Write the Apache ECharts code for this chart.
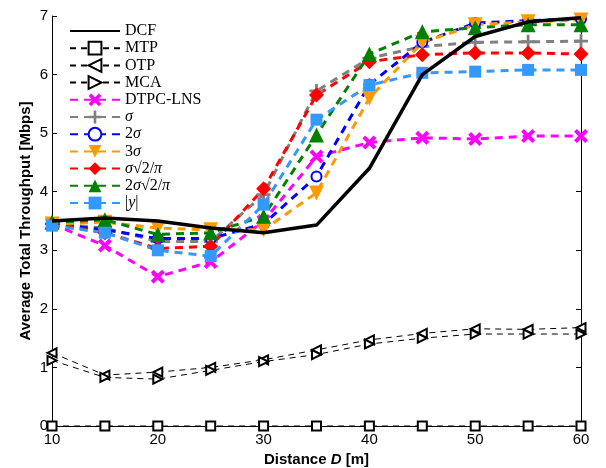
<!DOCTYPE html>
<html>
<head>
<meta charset="utf-8">
<script src="https://cdn.jsdelivr.net/npm/echarts@6/dist/echarts.min.js"></script>
<style>
html, body { margin: 0; padding: 0; background: #fff; }
#chart { width: 606px; height: 468px; }
</style>
</head>
<body>
<div id="chart"></div>
<script>
var distance = [10, 15, 20, 25, 30, 35, 40, 45, 50, 55, 60];
var xTicks = [10, 20, 30, 40, 50, 60];
var yTicks = [0, 1, 2, 3, 4, 5, 6, 7];

var dcf = [3.5, 3.55, 3.5, 3.38, 3.3, 3.43, 4.4, 6.0, 6.65, 6.9, 6.97];
var mtp = [0, 0, 0, 0, 0, 0, 0, 0, 0, 0, 0];
var otp = [1.25, 0.87, 0.92, 1.0, 1.13, 1.3, 1.47, 1.58, 1.66, 1.65, 1.68];
var mca = [1.12, 0.83, 0.8, 0.95, 1.1, 1.22, 1.4, 1.5, 1.57, 1.57, 1.57];
var dtpc = [3.45, 3.08, 2.55, 2.8, 3.5, 4.6, 4.84, 4.92, 4.9, 4.95, 4.95];
var sig1 = [3.45, 3.38, 3.15, 3.15, 3.95, 5.72, 6.28, 6.48, 6.55, 6.56, 6.57];
var sig2 = [3.45, 3.35, 3.2, 3.2, 3.45, 4.26, 5.83, 6.55, 6.88, 6.92, 6.95];
var sig3 = [3.45, 3.48, 3.38, 3.35, 3.35, 3.98, 5.6, 6.55, 6.85, 6.9, 6.93];
var sigPi = [3.45, 3.3, 3.03, 3.07, 4.05, 5.65, 6.22, 6.34, 6.37, 6.37, 6.35];
var sig2Pi = [3.48, 3.52, 3.27, 3.3, 3.58, 4.97, 6.35, 6.73, 6.8, 6.85, 6.85];
var absY = [3.42, 3.3, 3.0, 2.9, 3.78, 5.23, 5.82, 6.03, 6.05, 6.08, 6.08];

var xMark = 'path://M2,0 L5,3 L8,0 L10,2 L7,5 L10,8 L8,10 L5,7 L2,10 L0,8 L3,5 L0,2 Z';
var plusMark = 'path://M4,0 H6 V4 H10 V6 H6 V10 H4 V6 H0 V4 H4 Z';

function pairs(vals) {
    return distance.map(function (d, i) { return [d, vals[i]]; });
}

function dashed(name, vals, color, symbol, size, extra) {
    var s = {
        name: name,
        type: 'line',
        data: pairs(vals),
        symbol: symbol,
        symbolSize: size,
        lineStyle: { color: color, width: 3, type: [8, 6] },
        itemStyle: { color: color },
        z: 3
    };
    for (var k in extra) s[k] = extra[k];
    return s;
}

function blackDashed(name, vals, symbol, rot) {
    return {
        name: name,
        type: 'line',
        data: pairs(vals),
        symbol: symbol,
        symbolSize: 9,
        symbolRotate: rot,
        lineStyle: { color: '#000', width: 1, type: [6, 5] },
        itemStyle: { color: '#000', borderWidth: 1 },
        z: 2
    };
}

var names = ['DCF', 'MTP', 'OTP', 'MCA', 'DTPC-LNS', 'σ', '2σ', '3σ', 'σ√2/π', '2σ√2/π', '|y|'];
var richNames = {
    'σ': '{i|σ}',
    '2σ': '2{i|σ}',
    '3σ': '3{i|σ}',
    'σ√2/π': '{i|σ}√2/{i|π}',
    '2σ√2/π': '2{i|σ}√2/{i|π}',
    '|y|': '|{i|y}|'
};
// legend entries; DCF has no marker in the key
var legendData = names.map(function (n) {
    if (n === 'DCF') return { name: n, itemStyle: { opacity: 0 } };
    return { name: n };
});

var chart = echarts.init(document.getElementById('chart'));
var axisCommon = {
    type: 'value',
    axisLine: { show: true, lineStyle: { color: '#000', width: 1 } },
    axisTick: { show: true, inside: true, length: 5, lineStyle: { color: '#000' } },
    splitLine: { show: false }
};

var option = {
    animation: false,
    backgroundColor: '#fff',
    grid: { left: 52, right: 25, top: 16, bottom: 42, outerBoundsMode: 'none', containLabel: false },
    legend: {
        left: 64,
        top: 18,
        orient: 'vertical',
        itemWidth: 50,
        itemHeight: 16,
        itemGap: 1.2,
        data: legendData,
        textStyle: {
            fontFamily: 'Liberation Serif',
            fontSize: 16,
            lineHeight: 14,
            color: '#000',
            rich: {
                i: { fontFamily: 'Liberation Serif', fontStyle: 'italic', fontSize: 16, lineHeight: 14 }
            }
        },
        formatter: function (n) { return richNames[n] || n; }
    },
    xAxis: [
        Object.assign({}, axisCommon, {
            min: 10, max: 60, interval: 10,
            name: 'Distance {d|D} [m]',
            nameLocation: 'middle',
            nameGap: 24,
            nameTextStyle: {
                fontFamily: 'Liberation Sans', fontSize: 15, fontWeight: 'bold', color: '#000',
                rich: { d: { fontFamily: 'Liberation Sans', fontSize: 15, fontWeight: 'bold', fontStyle: 'italic' } }
            },
            axisLabel: {
                fontFamily: 'Liberation Sans', fontSize: 15, color: '#000', margin: 6,
                customValues: xTicks
            }
        }),
        Object.assign({}, axisCommon, {
            min: 10, max: 60, interval: 10, position: 'top',
            axisLabel: { show: false }
        })
    ],
    yAxis: [
        Object.assign({}, axisCommon, {
            min: 0, max: 7, interval: 1,
            name: 'Average Total Throughput [Mbps]',
            nameLocation: 'middle',
            nameGap: 19,
            nameMoveOverlap: false,
            nameTextStyle: { fontFamily: 'Liberation Sans', fontSize: 15, fontWeight: 'bold', color: '#000' },
            axisLabel: {
                fontFamily: 'Liberation Sans', fontSize: 15, color: '#000', margin: 4,
                customValues: yTicks
            }
        }),
        Object.assign({}, axisCommon, {
            min: 0, max: 7, interval: 1, position: 'right',
            axisLabel: { show: false }
        })
    ],
    series: [
        {
            name: 'DCF',
            type: 'line',
            data: pairs(dcf),
            symbol: 'none',
            lineStyle: { color: '#000', width: 3.5 },
            itemStyle: { color: '#000' },
            z: 4
        },
        blackDashed('MTP', mtp, 'emptyRect', 0),
        blackDashed('OTP', otp, 'emptyTriangle', 90),
        blackDashed('MCA', mca, 'emptyTriangle', -90),
        dashed('DTPC-LNS', dtpc, '#ff00ff', xMark, 14),
        dashed('σ', sig1, '#808080', plusMark, 14),
        dashed('2σ', sig2, '#0000ff', 'emptyCircle', 10, { itemStyle: { color: '#0000ff', borderWidth: 3 } }),
        dashed('3σ', sig3, '#ff9900', 'triangle', 15, { symbolRotate: 180 }),
        dashed('σ√2/π', sigPi, '#ff0000', 'diamond', 15),
        dashed('2σ√2/π', sig2Pi, '#008000', 'triangle', 15),
        dashed('|y|', absY, '#3399ff', 'rect', 12)
    ]
};
chart.setOption(option);
</script>
</body>
</html>
